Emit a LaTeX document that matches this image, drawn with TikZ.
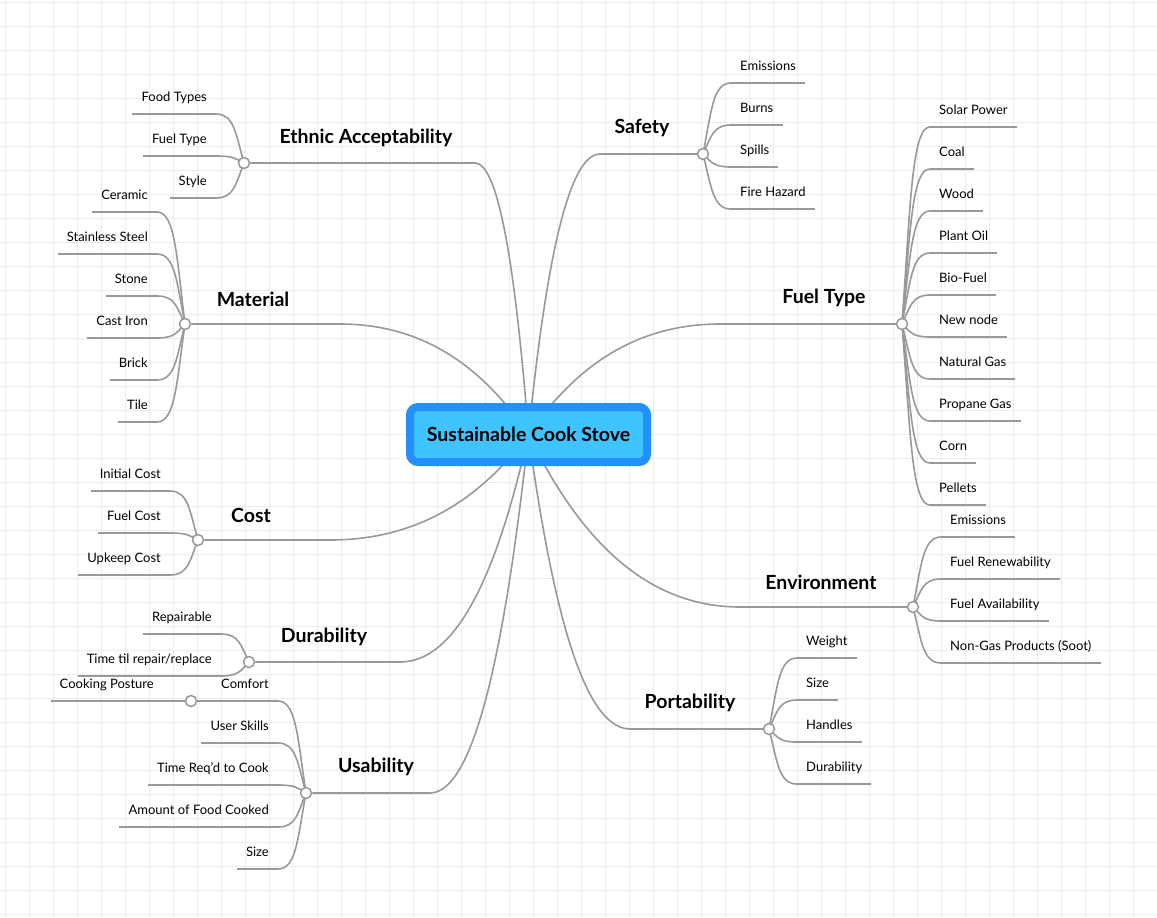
\documentclass[tikz,border=0pt]{standalone}
\usepackage{fontspec}
\setmainfont{Lato}
\usetikzlibrary{calc}
\pgfdeclarelayer{bg}
\pgfsetlayers{bg,main}

\definecolor{wiregray}{HTML}{999999}
\definecolor{hubedge}{HTML}{2290FF}
\definecolor{hubfill}{HTML}{40C4FF}
\definecolor{gridgreen}{HTML}{E8F0DE}

% knob -> leaf underline
\newcommand\twig[2]{%
  \draw[wire] let \p1=(#1.center), \p2=(#2) in
    (\p1) .. controls ({\x1+0.3*(\x2-\x1)}, {\y1+0.6*(\y2-\y1)})
              and ({\x1+0.35*(\x2-\x1)}, \y2) .. (\p2);}
% hub -> elbow -> knob
\newcommand\limb[3]{%
  \draw[wire] let \p1=(#1.center), \p2=(#2) in
    (\p1) .. controls ({\x1+0.2*(\x2-\x1)}, {\y1+0.5*(\y2-\y1)})
              and ({\x2-0.5*(\x2-\x1)}, \y2) .. (\p2) -- (#3);}

\begin{document}
\begin{tikzpicture}[x=1pt, y=-1pt,
  gridline/.style = {draw=gridgreen, line width=1pt},
  wire/.style = {draw=wiregray, line width=1.6pt},
  knob/.style = {circle, draw=wiregray, line width=1.5pt, fill=white,
                 inner sep=0pt, minimum size=11pt},
  hub/.style = {rectangle, rounded corners=8pt, draw=hubedge, line width=8pt,
                fill=hubfill, minimum width=237pt, minimum height=55pt,
                font=\fontsize{19.5}{22}\selectfont\bfseries},
  bough/.style = {font=\fontsize{19.5}{22}\selectfont\bfseries},
  leafR/.style = {font=\fontsize{13}{15}\selectfont, inner xsep=9pt,
                  inner ysep=12.5pt, text depth=0pt, anchor=south west},
  leafL/.style = {leafR, anchor=south east}]

  \useasboundingbox (0,0) rectangle (1157,918);
  \begin{pgfonlayer}{bg}
    \fill[white] (0,0) rectangle (1157,918);
    \foreach \gx in {5,29,...,1157} \draw[gridline] (\gx,0) -- (\gx,918);
    \foreach \gy in {2,26,...,918} \draw[gridline] (0,\gy) -- (1157,\gy);
  \end{pgfonlayer}

  \node[hub] (hub) at (528.5,434.5) {Sustainable Cook Stove};

  % knobs and elbows
  \node[knob] (safk) at (703,154) {};
  \node[knob] (fuek) at (902,324) {};
  \node[knob] (envk) at (913,607) {};
  \node[knob] (pork) at (769,729) {};
  \node[knob] (ethk) at (244,163) {};
  \node[knob] (matk) at (185,324) {};
  \node[knob] (cosk) at (198,540) {};
  \node[knob] (durk) at (249,662) {};
  \node[knob] (usek) at (306,793) {};
  \node[knob] (comk) at (191,701) {};
  \coordinate (safE) at (600,154);
  \coordinate (fueE) at (720,324);
  \coordinate (envE) at (740,607);
  \coordinate (porE) at (630,729);
  \coordinate (ethE) at (475,163);
  \coordinate (matE) at (340,324);
  \coordinate (cosE) at (330,540);
  \coordinate (durE) at (400,662);
  \coordinate (useE) at (430,793);

  % branch labels
  \node[bough] (saf) at (642,128) {Safety};
  \node[bough] (fue) at (824,298) {Fuel Type};
  \node[bough] (env) at (821,582) {Environment};
  \node[bough] (por) at (690,703) {Portability};
  \node[bough] (eth) at (366,138) {Ethnic Acceptability};
  \node[bough] (mat) at (253,299) {Material};
  \node[bough] (cos) at (251,515) {Cost};
  \node[bough] (dur) at (324,637) {Durability};
  \node[bough] (use) at (376,767) {Usability};

  % leaves
  \foreach \t [count=\i] in {Emissions, Burns, Spills, Fire Hazard}
    \node[leafR] (saf\i) at (731, {83+42*(\i-1)}) {\t};
  \foreach \t [count=\i] in {Solar Power, Coal, Wood, Plant Oil, Bio-Fuel,
      New node, Natural Gas, Propane Gas, Corn, Pellets}
    \node[leafR] (fue\i) at (930, {127+42*(\i-1)}) {\t};
  \foreach \t [count=\i] in {Emissions, Fuel Renewability, Fuel Availability,
      Non-Gas Products (Soot)}
    \node[leafR] (env\i) at (941, {537+42*(\i-1)}) {\t};
  \foreach \t [count=\i] in {Weight, Size, Handles, Durability}
    \node[leafR] (por\i) at (797, {658+42*(\i-1)}) {\t};
  \foreach \t [count=\i] in {Food Types, Fuel Type, Style}
    \node[leafL] (eth\i) at (216, {114+42*(\i-1)}) {\t};
  \foreach \t [count=\i] in {Ceramic, Stainless Steel, Stone, Cast Iron, Brick, Tile}
    \node[leafL] (mat\i) at (157, {212+42*(\i-1)}) {\t};
  \foreach \t [count=\i] in {Initial Cost, Fuel Cost, Upkeep Cost}
    \node[leafL] (cos\i) at (170, {491+42*(\i-1)}) {\t};
  \foreach \t [count=\i] in {Repairable, Time til repair/replace}
    \node[leafL] (dur\i) at (221, {634+42*(\i-1)}) {\t};
  \foreach \t [count=\i] in {Comfort, User Skills, Time Req'd to Cook,
      Amount of Food Cooked, Size}
    \node[leafL] (use\i) at (278, {701+42*(\i-1)}) {\t};
  \node[leafL] (cook) at (163,701) {Cooking Posture};

  % connectors
  \begin{pgfonlayer}{bg}
    \limb{hub}{safE}{safk}
    \limb{hub}{fueE}{fuek}
    \limb{hub}{envE}{envk}
    \limb{hub}{porE}{pork}
    \limb{hub}{ethE}{ethk}
    \limb{hub}{matE}{matk}
    \limb{hub}{cosE}{cosk}
    \limb{hub}{durE}{durk}
    \limb{hub}{useE}{usek}
    \foreach \i in {1,...,4} {\twig{safk}{saf\i.south west}
      \draw[wire] (saf\i.south west) -- (saf\i.south east);}
    \foreach \i in {1,...,10} {\twig{fuek}{fue\i.south west}
      \draw[wire] (fue\i.south west) -- (fue\i.south east);}
    \foreach \i in {1,...,4} {\twig{envk}{env\i.south west}
      \draw[wire] (env\i.south west) -- (env\i.south east);}
    \foreach \i in {1,...,4} {\twig{pork}{por\i.south west}
      \draw[wire] (por\i.south west) -- (por\i.south east);}
    \foreach \i in {1,...,3} {\twig{ethk}{eth\i.south east}
      \draw[wire] (eth\i.south east) -- (eth\i.south west);}
    \foreach \i in {1,...,6} {\twig{matk}{mat\i.south east}
      \draw[wire] (mat\i.south east) -- (mat\i.south west);}
    \foreach \i in {1,...,3} {\twig{cosk}{cos\i.south east}
      \draw[wire] (cos\i.south east) -- (cos\i.south west);}
    \foreach \i in {1,2} {\twig{durk}{dur\i.south east}
      \draw[wire] (dur\i.south east) -- (dur\i.south west);}
    \foreach \i in {1,...,5} {\twig{usek}{use\i.south east}
      \draw[wire] (use\i.south east) -- (use\i.south west);}
    \draw[wire] (use1.south west) -- (comk);
    \draw[wire] (comk) -- (cook.south east) -- (cook.south west);
  \end{pgfonlayer}
\end{tikzpicture}
\end{document}
